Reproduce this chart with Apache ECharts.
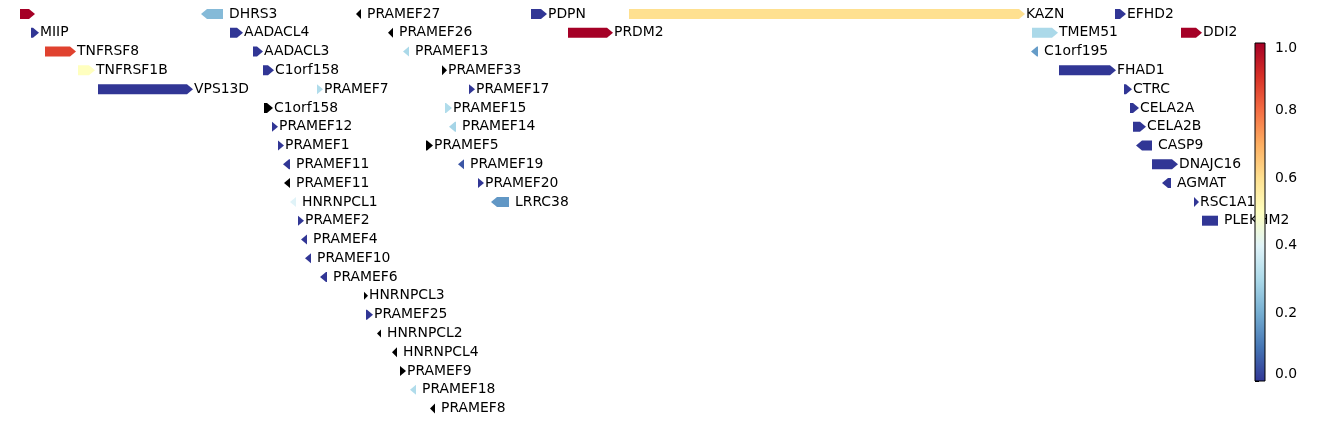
<!DOCTYPE html>
<html>
<head>
<meta charset="utf-8">
<script src="https://cdn.jsdelivr.net/npm/echarts@6/dist/echarts.min.js"></script>
<style>html,body{margin:0;padding:0;background:#fff}#c{width:1338px;height:423px}</style>
</head>
<body>
<div id="c"></div>
<script>
// Gene track (position units along a hidden genomic axis)
const geneNames = ['', 'MIIP', 'TNFRSF8', 'TNFRSF1B', 'VPS13D', 'DHRS3', 'AADACL4', 'AADACL3', 'C1orf158', 'PRAMEF7',
  'C1orf158', 'PRAMEF12', 'PRAMEF1', 'PRAMEF11', 'PRAMEF11', 'HNRNPCL1', 'PRAMEF2', 'PRAMEF4', 'PRAMEF10', 'PRAMEF6',
  'HNRNPCL3', 'PRAMEF25', 'HNRNPCL2', 'HNRNPCL4', 'PRAMEF9', 'PRAMEF18', 'PRAMEF8', 'PRAMEF27', 'PRAMEF26', 'PRAMEF13',
  'PRAMEF33', 'PRAMEF17', 'PRAMEF15', 'PRAMEF14', 'PRAMEF5', 'PRAMEF19', 'PRAMEF20', 'LRRC38', 'PDPN', 'PRDM2',
  'KAZN', 'TMEM51', 'C1orf195', 'FHAD1', 'EFHD2', 'CTRC', 'CELA2A', 'CELA2B', 'CASP9', 'DNAJC16', 'AGMAT', 'DDI2',
  'RSC1A1', 'PLEKHM2'];
const geneStarts = [20, 31, 45, 78, 98, 201, 230, 253, 263, 317,
  264, 272, 278, 283, 284, 290, 298, 301, 305, 320,
  364, 366, 377, 392, 400, 410, 430, 356, 388, 403,
  442, 469, 445, 449, 426, 458, 478, 491, 531, 568,
  629, 1032, 1031, 1059, 1115, 1124, 1130, 1133, 1136, 1152, 1162, 1181,
  1194, 1202];
const geneEnds = [35, 39, 76, 95, 193, 223, 243, 263, 274, 323,
  273, 278, 284, 290, 290, 296, 304, 307, 311, 327,
  368, 373, 381, 397, 406, 416, 435, 361, 393, 409,
  447, 475, 452, 456, 433, 464, 484, 509, 547, 613,
  1025, 1058, 1038, 1116, 1126, 1132, 1139, 1146, 1152, 1178, 1171, 1202,
  1199, 1218];
// 1 forward, -1 reverse, 0 unknown
const geneStrands = [1, 1, 1, 1, 1, -1, 1, 1, 1, 1,
  1, 1, 1, -1, -1, -1, 1, -1, -1, -1,
  1, 1, -1, -1, 1, -1, -1, -1, -1, -1,
  1, 1, 1, -1, 1, -1, 1, -1, 1, 1,
  1, 1, -1, 1, 1, 1, 1, 1, -1, 1, -1, 1,
  1, 0];
const geneRows = [0, 1, 2, 3, 4, 0, 1, 2, 3, 4,
  5, 6, 7, 8, 9, 10, 11, 12, 13, 14,
  15, 16, 17, 18, 19, 20, 21, 0, 1, 2,
  3, 4, 5, 6, 7, 8, 9, 10, 0, 1,
  0, 1, 2, 3, 0, 4, 5, 6, 7, 8, 9, 1,
  10, 11];
// colour value (null = no value, drawn black)
const geneValues = [1.0, 0.0, 0.87, 0.5, 0.0, 0.23, 0.0, 0.0, 0.0, 0.31,
  null, 0.0, 0.0, 0.0, null, 0.4, 0.0, 0.0, 0.0, 0.0,
  null, 0.0, null, null, null, 0.31, null, null, null, 0.3,
  null, 0.0, 0.31, 0.29, null, 0.05, 0.0, 0.16, 0.0, 1.0,
  0.6, 0.3, 0.17, 0.0, 0.0, 0.0, 0.0, 0.0, 0.0, 0.0, 0.0, 1.0,
  0.0, 0.0];
const colorbarTicks = [0, 0.2, 0.4, 0.6, 0.8, 1.0];
const cmapStops = ['#313695', '#4575b4', '#74add1', '#abd9e9', '#e0f3f8', '#ffffbf', '#fee090', '#fdae61', '#f46d43', '#d73027', '#a50026'];

const FONT = 'DejaVu Sans';
const FS = 13.9;

const data = geneNames.map((n, i) => [geneStarts[i], geneEnds[i], geneStrands[i],
  geneValues[i] === null ? NaN : geneValues[i], geneRows[i], n]);

const chart = echarts.init(document.getElementById('c'), null, {renderer: 'canvas'});

function renderGene(params, api) {
  const start = api.value(0), end = api.value(1), strand = api.value(2), v = api.value(3), row = api.value(4);
  const name = data[params.dataIndex][5];
  const a = api.coord([start, row]);
  const b = api.coord([end, row]);
  const y = a[1] + 0.5;
  const x0 = a[0], x1 = b[0];
  const len = x1 - x0;
  const headLen = 6;
  const hl = Math.min(headLen, len);
  const hh = 5 * Math.min(1, len / 5);
  let pts;
  if (strand === 1) {
    pts = [[x0, y - hh], [x1 - hl, y - hh], [x1, y], [x1 - hl, y + hh], [x0, y + hh]];
  } else if (strand === -1) {
    pts = [[x1, y - hh], [x0 + hl, y - hh], [x0, y], [x0 + hl, y + hh], [x1, y + hh]];
  } else {
    pts = [[x0, y - 5], [x1, y - 5], [x1, y + 5], [x0, y + 5]];
  }
  const color = isNaN(v) ? '#000000' : api.visual('color');
  const children = [{
    type: 'polygon', shape: {points: pts}, style: {fill: color}
  }];
  if (name) {
    children.push({
      type: 'text',
      style: {
        x: x1 + (strand === 1 ? 1 : 6), y: y,
        text: name, fill: '#000', font: FS + 'px "' + FONT + '"',
        verticalAlign: 'middle', align: 'left'
      }
    });
  }
  return {type: 'group', children: children};
}

function renderBar(params, api) {
  const p0 = api.coord([0, 0]);
  const p1 = api.coord([1, 1]);
  const stops = cmapStops.map((c, i) => ({offset: i / (cmapStops.length - 1), color: c}));
  return {
    type: 'rect',
    shape: {x: p0[0], y: p1[1], width: p1[0] - p0[0], height: p0[1] - p1[1]},
    style: {
      fill: new echarts.graphic.LinearGradient(0, 1, 0, 0, stops),
      stroke: '#000', lineWidth: 1
    }
  };
}

chart.setOption({
  animation: false,
  backgroundColor: '#fff',
  textStyle: {fontFamily: FONT},
  grid: [
    {left: 0, right: 0, top: 4.1, height: 413.4},
    {left: 1255, top: 43, width: 10, height: 338}
  ],
  xAxis: [
    {gridIndex: 0, type: 'value', min: 0, max: 1338, show: false},
    {gridIndex: 1, type: 'value', min: 0, max: 1, show: false}
  ],
  yAxis: [
    {gridIndex: 0, type: 'value', inverse: true, min: -0.5, max: 21.5, show: false},
    {gridIndex: 1, type: 'value', min: 0, max: 1, interval: 0.2, position: 'right',
      axisLine: {show: false},
      axisTick: {show: true, length: 4, lineStyle: {color: '#000', width: 1}},
      splitLine: {show: false},
      axisLabel: {
        margin: 10, color: '#000', fontSize: FS, fontFamily: FONT,
        formatter: function (v) {
          const s = v.toFixed(1);
          if (v >= 0.999) return '{t|' + s + '}';
          if (v <= 0.001) return '{b|' + s + '}';
          return s;
        },
        rich: {
          t: {fontSize: FS, fontFamily: FONT, color: '#000', padding: [10, 0, 0, 0]},
          b: {fontSize: FS, fontFamily: FONT, color: '#000', padding: [0, 0, 14, 0]}
        }
      }
    }
  ],
  visualMap: {
    show: false, type: 'continuous', min: 0, max: 1, dimension: 3, seriesIndex: 0,
    inRange: {color: cmapStops}
  },
  series: [
    {
      type: 'custom', xAxisIndex: 0, yAxisIndex: 0, z: 2,
      renderItem: renderGene, data: data,
      encode: {x: [0, 1], y: 4}, clip: false
    },
    {
      type: 'custom', xAxisIndex: 1, yAxisIndex: 1, z: 10,
      renderItem: renderBar, data: [[0, 0]], silent: true
    }
  ]
});
</script>
</body>
</html>
